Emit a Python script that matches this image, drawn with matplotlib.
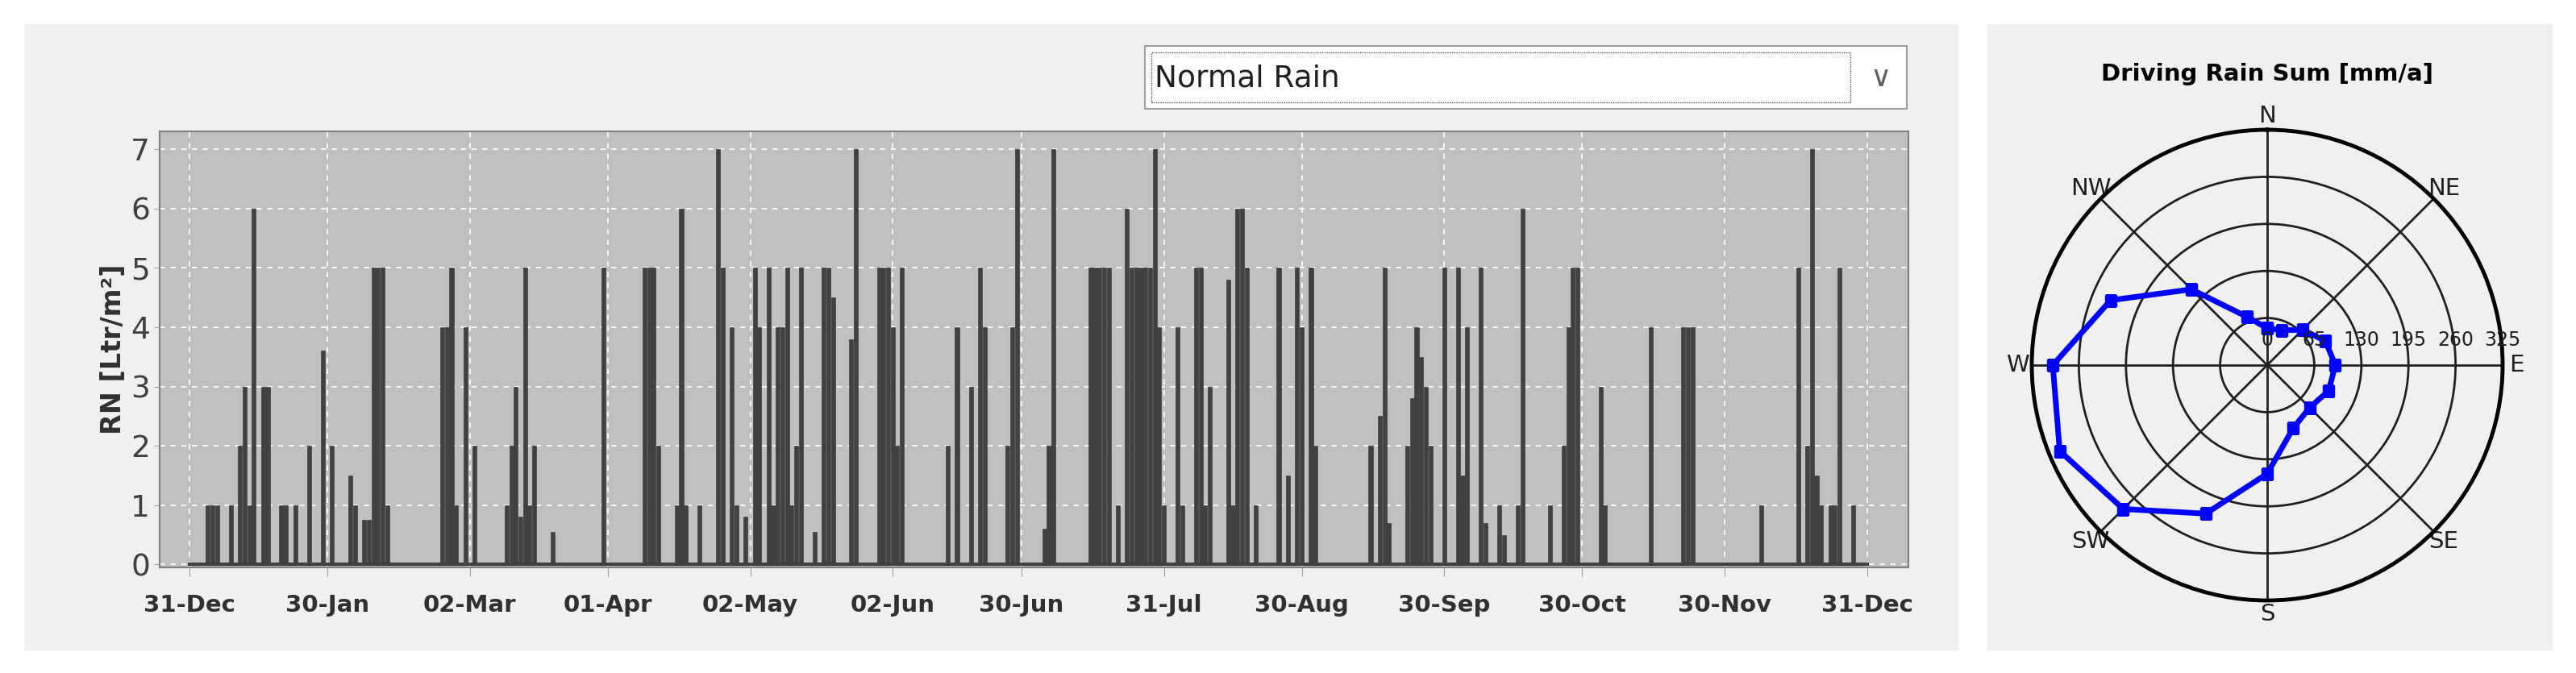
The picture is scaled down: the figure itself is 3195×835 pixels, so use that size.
import numpy as np
import matplotlib
matplotlib.use("Agg")
import matplotlib.pyplot as plt
from matplotlib.patches import Rectangle

# daily rain events (day index from 31-Dec, value in Ltr/m2)
rain_days = [4,5,6,9,11,12,13,14,16,17,20,21,23,26,29,31,35,36,38,39,40,41,42,43,
             55,56,57,58,60,62,69,70,71,72,73,74,75,79,90,99,100,101,102,
             106,107,108,111,115,116,118,119,121,123,124,126,127,128,129,130,131,132,133,136,138,139,140,144,145,
             150,151,152,153,154,155,165,167,170,172,173,178,179,180,
             186,187,188,196,197,198,199,200,202,204,205,206,207,208,209,210,211,212,215,216,219,220,221,222,
             226,227,228,229,230,232,237,239,241,242,244,245,
             257,259,260,261,265,266,267,268,269,270,273,276,277,278,281,282,285,286,289,290,296,
             299,300,301,302,307,308,318,325,326,327,342,350,352,353,354,355,357,358,359,362]
rain_vals = [1,1,1,1,2,3,1,6,3,3,1,1,1,2,3.6,2,1.5,1,0.75,0.75,5,5,5,1,
             4,4,5,1,4,2,1,2,3,0.8,5,1,2,0.55,5,5,5,5,2,
             1,6,1,1,7,5,4,1,0.8,5,4,5,1,4,4,5,1,2,5,0.55,5,5,4.5,3.8,7,
             5,5,5,4,2,5,2,4,3,5,4,2,4,7,
             0.6,2,7,5,5,5,5,5,1,6,5,5,5,5,5,7,4,1,4,1,5,5,1,3,
             4.8,1,6,6,5,1,5,1.5,5,4,5,2,
             2,2.5,5,0.7,2,2.8,4,3.5,3,2,5,5,1.5,4,5,0.7,1,0.5,1,6,1,
             2,4,5,5,3,1,4,4,4,4,1,5,2,7,1.5,1,1,1,5,1]
xtick_days = [0,30,61,91,122,153,181,212,242,273,303,334,365]
xtick_labels = ["31-Dec","30-Jan","02-Mar","01-Apr","02-May","02-Jun","30-Jun",
                "31-Jul","30-Aug","30-Sep","30-Oct","30-Nov","31-Dec"]

directions = ["N","NNE","NE","ENE","E","ESE","SE","SSE","S","SSW","SW","WSW","W","WNW","NW","NNW"]
drive_rain = [51,52,69,87,94,92,83,94,150,222,281,310,296,234,148,72]
ring_ticks = [0,65,130,195,260,325]

W, H = 3195, 835
fig = plt.figure(figsize=(W/100, H/100), dpi=100)
fig.patch.set_facecolor("white")

def fx(x): return x / W
def fy(y): return 1 - y / H

def rect(x0, y0, x1, y1, **kw):
    r = Rectangle((fx(x0), fy(y1)), fx(x1 - x0), (y1 - y0)/H, transform=fig.transFigure, **kw)
    fig.add_artist(r)

rect(30, 30, 2428, 806, color="#f0f0f0", zorder=-5)
rect(2465, 30, 3165, 806, color="#f0f0f0", zorder=-5)
rect(1420, 57, 2365, 135, facecolor="white", edgecolor="#a0a0a0", lw=1.5, zorder=-4)
rect(1428, 65, 2295, 127, facecolor="none", edgecolor="#505050", lw=1, ls=(0, (1, 1)), zorder=-3)
fig.text(fx(1432), fy(97), "Normal Rain", fontsize=27, va="center", ha="left", color="#202020")
fig.text(fx(2333), fy(97), "\u2228", fontsize=26, va="center", ha="center", color="#606060")

# bar chart
ax = fig.add_axes([fx(198), fy(704), fx(2367-198), (704-163)/H])
ax.set_facecolor("#c0c0c0")
ax.bar(rain_days, rain_vals, width=0.9, color="#404040", edgecolor="#404040", lw=0.5, zorder=3)
ax.plot([0, 365], [0, 0], color="#404040", lw=3, zorder=4)
ax.set_xlim(-6.5, 374)
ax.set_ylim(-0.05, 7.3)
ax.set_yticks(range(8))
ax.set_yticklabels([str(i) for i in range(8)], fontsize=27, color="#404040")
ax.set_xticks(xtick_days)
ax.set_xticklabels(xtick_labels, fontsize=21, fontweight="bold", color="#303030")
ax.tick_params(axis="x", length=8, pad=16, color="#a0a0a0")
ax.tick_params(axis="y", length=5, color="#a0a0a0")
ax.grid(True, color="white", ls=(0, (4, 4)), lw=1.2, zorder=1)
ax.set_axisbelow(True)
ax.set_ylabel("RN [Ltr/m\u00b2]", fontsize=24, fontweight="bold", color="#303030")
for s in ax.spines.values():
    s.set_color("#808080"); s.set_linewidth(1.5)

# polar chart
R = 292
cx, cy = 2812, 453
pax = fig.add_axes([fx(cx - R), fy(cy + R), 2*R/W, 2*R/H], projection="polar")
pax.set_facecolor("#f0f0f0")
pax.set_theta_zero_location("N")
pax.set_theta_direction(-1)
theta = np.deg2rad(np.arange(16) * 22.5)
tc = np.append(theta, theta[0]); rc = np.append(drive_rain, drive_rain[0])
pax.plot(tc, rc, color="#0000ff", lw=5, marker="s", ms=10, zorder=5)
pax.set_ylim(0, 325)
pax.set_yticks(ring_ticks[1:])
pax.set_yticklabels([])
for r in ring_ticks:
    pax.annotate(str(r), xy=(np.deg2rad(90), r), xytext=(0, 22), textcoords="offset points",
                 fontsize=17, ha="center", va="center", color="#202020", zorder=6)
pax.set_xticks(np.deg2rad(np.arange(8) * 45))
pax.set_xticklabels(["N","NE","E","SE","S","SW","W","NW"], fontsize=21, color="#202020")
pax.tick_params(axis="x", pad=2)
pax.grid(True, color="#202020", lw=2, ls="-")
pax.spines["polar"].set_linewidth(3.5)
pax.spines["polar"].set_color("black")
fig.text(fx(2812), fy(92), "Driving Rain Sum [mm/a]", fontsize=21, fontweight="bold",
         ha="center", va="center")

fig.savefig("out.png", dpi=100, facecolor="white")
